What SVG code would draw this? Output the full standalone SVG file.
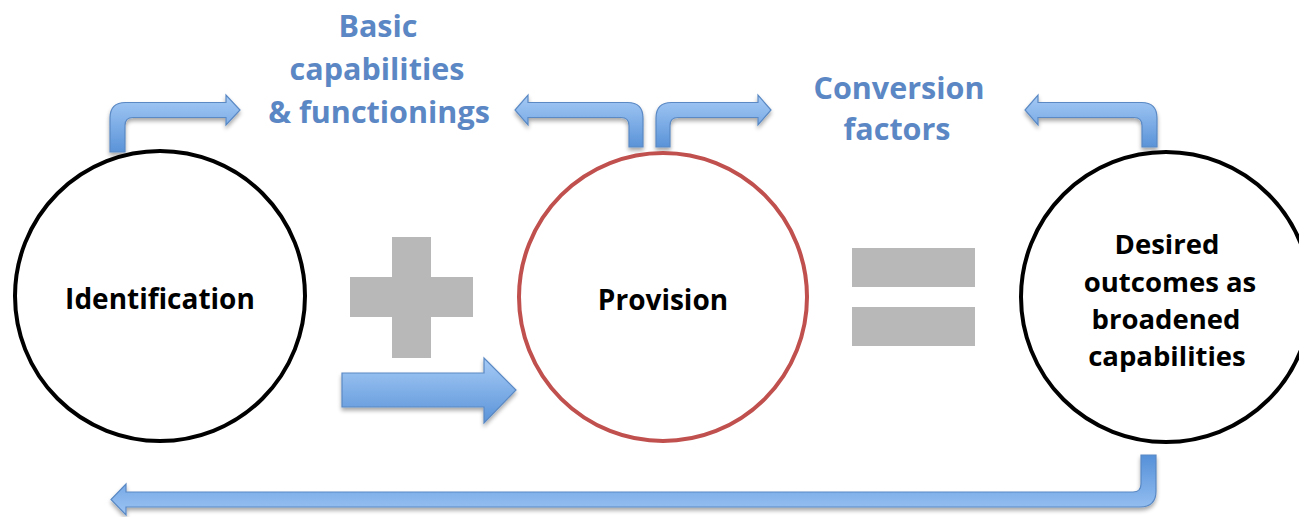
<svg xmlns="http://www.w3.org/2000/svg" width="1299" height="517" viewBox="0 0 1299 517">
<defs>
<linearGradient id="g" x1="0" y1="0" x2="0" y2="1">
<stop offset="0" stop-color="#a6cbf6"/>
<stop offset="1" stop-color="#5a93d8"/>
</linearGradient>
<linearGradient id="g2" x1="0" y1="0" x2="0" y2="1">
<stop offset="0" stop-color="#5590d8"/>
<stop offset="1" stop-color="#9cc4f4"/>
</linearGradient>
<filter id="sh" x="-10%" y="-10%" width="120%" height="140%">
<feGaussianBlur in="SourceAlpha" stdDeviation="2"/>
<feOffset dx="0" dy="3" result="b"/>
<feComponentTransfer><feFuncA type="linear" slope="0.35"/></feComponentTransfer>
<feMerge><feMergeNode/><feMergeNode in="SourceGraphic"/></feMerge>
</filter>
</defs>
<style>
.arr{fill:url(#g);stroke:#5a89c4;stroke-width:1.2;filter:url(#sh)}
.arr2{fill:url(#g2);stroke:#5a89c4;stroke-width:1.2;filter:url(#sh)}
.circ{fill:#fff;stroke-width:4}
.lbl{font-family:"Open Sans","DejaVu Sans",sans-serif;font-weight:bold;font-size:28px;fill:#000;text-anchor:middle}
.lbl2{font-family:"Open Sans","DejaVu Sans",sans-serif;font-weight:bold;font-size:27.5px;fill:#000;text-anchor:middle}
.blue{font-family:"Open Sans","DejaVu Sans",sans-serif;font-weight:bold;font-size:30.5px;fill:#5b87c5;text-anchor:middle}
.op{fill:#b8b8b8}
</style>
<g id="connectors">
<path class="arr" d="M110,152 L110,118 Q110,102.5 125.5,102.5 L226,102.5 L226,95 L240,110 L226,125 L226,117.5 L133,117.5 Q125,117.5 125,125.5 L125,152 Z"/>
<path class="arr" d="M643,147 L643,118 Q643,102.5 627.5,102.5 L528,102.5 L528,95 L515,110 L528,125 L528,117.5 L621,117.5 Q629,117.5 629,125.5 L629,147 Z"/>
<path class="arr" d="M656,147 L656,118 Q656,102.5 671.5,102.5 L758,102.5 L758,95 L771,110 L758,125 L758,117.5 L678,117.5 Q670,117.5 670,125.5 L670,147 Z"/>
<path class="arr" d="M1157,147 L1157,118 Q1157,102.5 1141.5,102.5 L1038,102.5 L1038,95 L1025,110 L1038,125 L1038,117.5 L1134,117.5 Q1142,117.5 1142,125.5 L1142,147 Z"/>
<path class="arr2" d="M1141,455 L1156,455 L1156,491 Q1156,507 1140,507 L126,507 L126,515 L111,499.5 L126,484 L126,492 L1133,492 Q1141,492 1141,484 Z"/>
<path class="arr" d="M342,373 L484,373 L484,358 L516,390 L484,423 L484,407 L342,407 Z"/>
</g>
<g id="plus">
<rect class="op" x="392" y="237" width="39" height="121"/>
<rect class="op" x="350" y="277" width="123" height="40"/>
</g>
<g id="equals">
<rect class="op" x="852" y="248" width="123" height="39"/>
<rect class="op" x="852" y="307" width="123" height="39"/>
</g>
<g id="identification">
<circle class="circ" cx="160" cy="296" r="145" stroke="#000"/>
<text class="lbl" x="160" y="309">Identification</text>
</g>
<g id="provision">
<circle class="circ" cx="663" cy="297" r="144" stroke="#c0504d" stroke-width="3.5"/>
<text class="lbl" x="663" y="310">Provision</text>
</g>
<g id="desired">
<circle class="circ" cx="1166" cy="297" r="145" stroke="#000"/>
<text class="lbl2" x="1167" y="254">Desired</text>
<text class="lbl2" x="1170" y="292">outcomes as</text>
<text class="lbl2" x="1166" y="329">broadened</text>
<text class="lbl2" x="1167" y="366">capabilities</text>
</g>
<g id="label-basic">
<text class="blue" x="378" y="37">Basic</text>
<text class="blue" x="377" y="80">capabilities</text>
<text class="blue" x="379" y="123">&amp; functionings</text>
</g>
<g id="label-conversion">
<text class="blue" x="899" y="99">Conversion</text>
<text class="blue" x="897" y="140">factors</text>
</g>
</svg>
